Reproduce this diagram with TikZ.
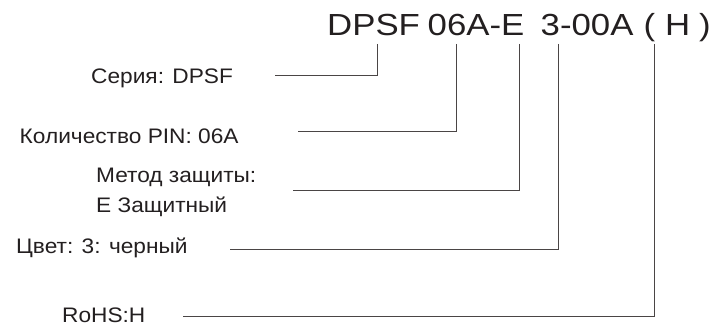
\documentclass[tikz,border=0pt]{standalone}
\usepackage{fontspec}
\setmainfont{Liberation Sans}[FakeStretch=1.08]
\newfontfamily\titlefont{Liberation Sans}[FakeStretch=1.14]
\definecolor{txt}{HTML}{231F20}
\definecolor{ln}{HTML}{4A4545}
\begin{document}
\begin{tikzpicture}[x=1pt,y=-1pt,
  lbl/.style={anchor=base west,inner sep=0pt,text=txt,font=\fontsize{21}{25}\selectfont},
  ttl/.style={anchor=base west,inner sep=0pt,text=txt,font=\titlefont\fontsize{30.5}{35}\selectfont},
  leader/.style={draw=ln,line width=1pt}]
\useasboundingbox (0,0) rectangle (712,328);
% title pieces
\node[ttl] (tA) at (327,36) {DPSF};
\node[ttl] (tB) at (427.5,36) {06A-E};
\node[ttl] (tC) at (540.5,36) {3-00A};
\node[ttl] (tD) at (643.5,36) {(};
\node[ttl] (tE) at (665,36) {H};
\node[ttl] (tF) at (699,36) {)};
% labels
\node[lbl] (l1) at (91,83.5) {Серия: DPSF};
\node[lbl] (l2) at (19.5,143.5) {Количество PIN: 06A};
\node[lbl] (l3) at (96,182.5) {Метод защиты:};
\node[lbl] (l3b) at (96,212.5) {E Защитный};
\node[lbl] (l4) at (16,253.5) {Цвет: 3: черный};
\node[lbl] (l5) at (62,322.5) {RoHS:H};
% tick tops and line ends
\coordinate (k1) at (377.5,44);
\coordinate (k2) at (456,44);
\coordinate (k3) at (519,44);
\coordinate (k4) at (558,44);
\coordinate (k5) at (654,44);
\coordinate (e1) at (275,76);
\coordinate (e2) at (298,132);
\coordinate (e3) at (293,190.7);
\coordinate (e4) at (230,249.3);
\coordinate (e5) at (183,316.7);
\draw[leader] (k1) |- (e1);
\draw[leader] (k2) |- (e2);
\draw[leader] (k3) |- (e3);
\draw[leader] (k4) |- (e4);
\draw[leader] (k5) |- (e5);
\end{tikzpicture}
\end{document}
